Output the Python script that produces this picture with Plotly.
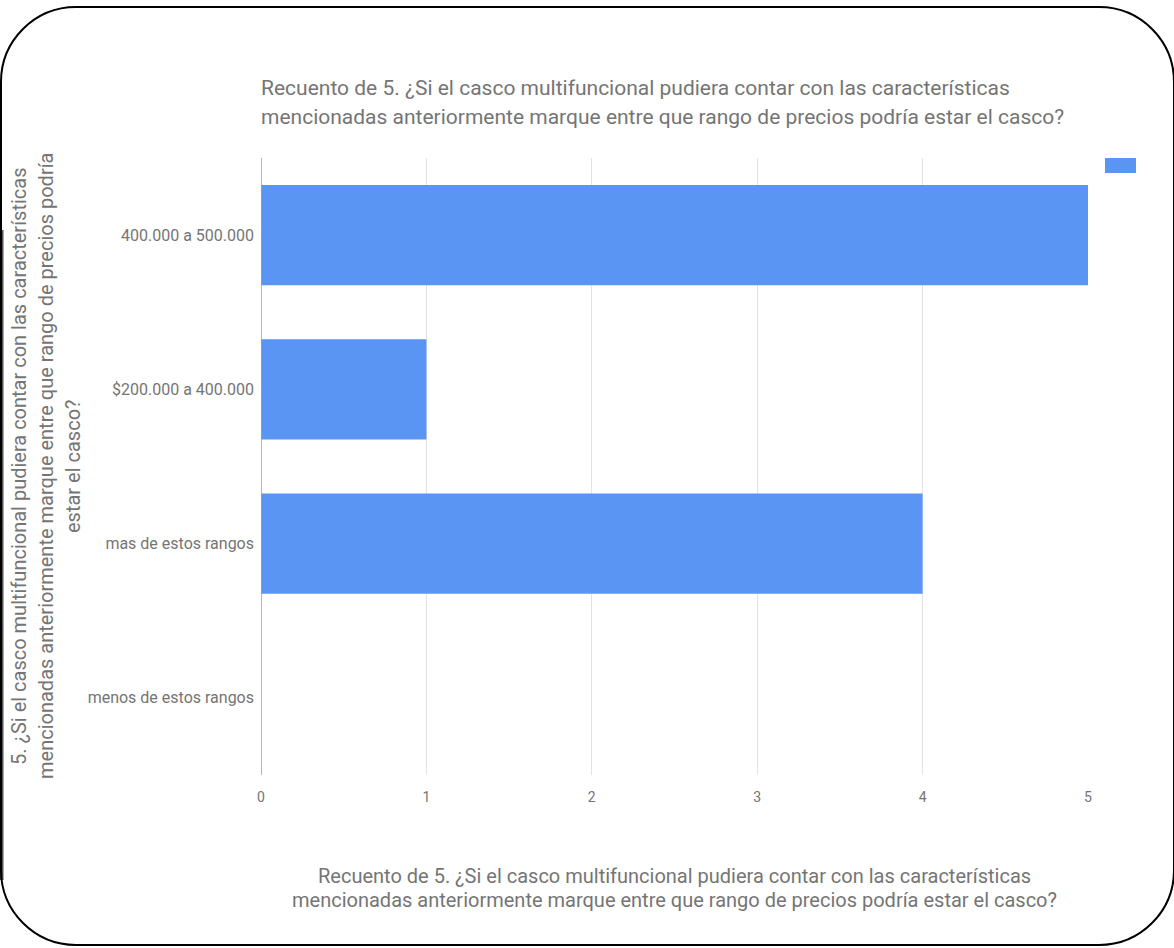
import plotly.graph_objects as go

categories = ["400.000 a 500.000", "$200.000 a 400.000", "mas de estos rangos", "menos de estos rangos"]
counts = [5, 1, 4, 0]
x_ticks = [0, 1, 2, 3, 4, 5]

title_lines = [
    "Recuento de 5. ¿Si el casco multifuncional pudiera contar con las características",
    "mencionadas anteriormente marque entre que rango de precios podría estar el casco?",
]
xtitle_lines = [
    "Recuento de 5. ¿Si el casco multifuncional pudiera contar con las características",
    "mencionadas anteriormente marque entre que rango de precios podría estar el casco?",
]
ytitle_lines = [
    "5. ¿Si el casco multifuncional pudiera contar con las características",
    "mencionadas anteriormente marque entre que rango de precios podría",
    "estar el casco?",
]

W, H = 1174, 948
ML, MR, MT, MB = 261, 86, 158, 173
PW, PH = W - ML - MR, H - MT - MB

def px(x):
    return (x - ML) / PW

def py(y):
    return (H - MB - y) / PH

GRAY = "#757575"
BAR = "#5b95f3"
FONT = "Roboto, Arial, sans-serif"

fig = go.Figure()
fig.add_trace(go.Bar(
    y=categories, x=counts, orientation="h",
    marker=dict(color=BAR, line=dict(width=0)),
    showlegend=False, hoverinfo="x+y",
))

# rounded frame path (pixel -> paper)
x0, x1, y0, y1, r = 1, 1174, 7, 945, 75
k = 0.5523 * r
pts = [
    ("M", [(x0 + r, y0)]),
    ("L", [(x1 - r, y0)]),
    ("C", [(x1 - r + k, y0), (x1, y0 + r - k), (x1, y0 + r)]),
    ("L", [(x1, y1 - r)]),
    ("C", [(x1, y1 - r + k), (x1 - r + k, y1), (x1 - r, y1)]),
    ("L", [(x0 + r, y1)]),
    ("C", [(x0 + r - k, y1), (x0, y1 - r + k), (x0, y1 - r)]),
    ("L", [(x0, y0 + r)]),
    ("C", [(x0, y0 + r - k), (x0 + r - k, y0), (x0 + r, y0)]),
]
path = ""
for cmd, ps in pts:
    path += cmd + " " + " ".join(f"{px(a):.5f},{py(b):.5f}" for a, b in ps) + " "
path += "Z"

shapes = [
    dict(type="rect", xref="paper", yref="paper",
         x0=px(0), x1=px(3.5), y0=py(230), y1=py(880),
         fillcolor="#555555", line=dict(width=0), layer="above"),
    dict(type="path", xref="paper", yref="paper", path=path,
         line=dict(color="black", width=2), layer="above"),
    # legend swatch
    dict(type="rect", xref="paper", yref="paper",
         x0=px(1105), x1=px(1136), y0=py(173), y1=py(158),
         fillcolor=BAR, line=dict(width=0)),
]

annotations = []
for i, t in enumerate(title_lines):
    annotations.append(dict(text=t, xref="paper", yref="paper", x=px(259), y=py(88 + 29 * i),
                            xanchor="left", yanchor="middle", showarrow=False,
                            font=dict(size=21, color=GRAY, family=FONT)))
for i, t in enumerate(xtitle_lines):
    annotations.append(dict(text=t, xref="paper", yref="paper", x=px(674), y=py(876 + 24 * i),
                            xanchor="center", yanchor="middle", showarrow=False,
                            font=dict(size=20, color=GRAY, family=FONT)))
for i, t in enumerate(ytitle_lines):
    annotations.append(dict(text=t, xref="paper", yref="paper", x=px(19 + 27 * i), y=py(466),
                            xanchor="center", yanchor="middle", showarrow=False, textangle=-90,
                            font=dict(size=20, color=GRAY, family=FONT)))

fig.update_layout(
    width=W, height=H,
    margin=dict(l=ML, r=MR, t=MT, b=MB),
    paper_bgcolor="white", plot_bgcolor="white",
    bargap=0.35,
    font=dict(family=FONT, color=GRAY),
    shapes=shapes, annotations=annotations,
    xaxis=dict(range=[0, 5], tickvals=x_ticks, showgrid=True, gridcolor="#e3e3e3", gridwidth=1,
               zeroline=False, showline=False, ticks="", tickfont=dict(size=14, color=GRAY),
               ticklabelstandoff=12, fixedrange=True),
    yaxis=dict(categoryorder="array", categoryarray=categories, autorange="reversed",
               showgrid=False, zeroline=False, showline=False, ticks="", ticklabelstandoff=6,
               tickfont=dict(size=16, color=GRAY)),
)
# zero axis line
fig.add_shape(type="line", xref="x", yref="paper", x0=0, x1=0, y0=0, y1=1,
              line=dict(color="#9e9e9e", width=1.5))

fig.write_html("out.html", config={"displayModeBar": False},
               post_script="document.body.style.margin='0';document.body.style.overflow='hidden';")
